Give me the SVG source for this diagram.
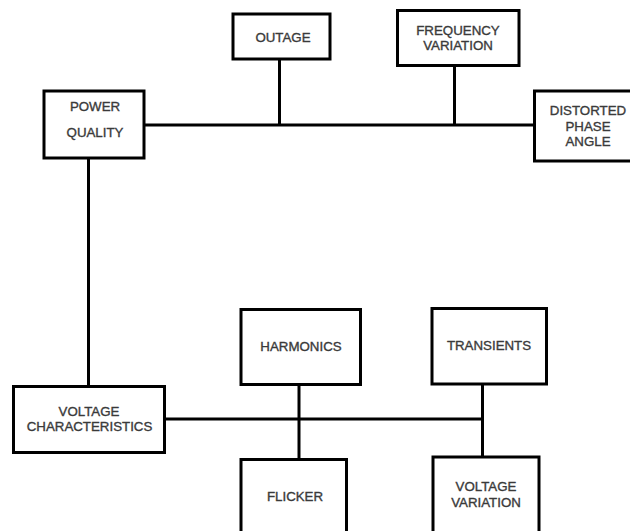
<svg xmlns="http://www.w3.org/2000/svg" width="630" height="531" viewBox="0 0 630 531">
<style>
.box{fill:#fff;stroke:#000;stroke-width:3}
.ln{stroke:#000;stroke-width:3;fill:none}
text{font-family:"Liberation Sans",Arial,sans-serif;font-size:13.3px;fill:#3a3a3a;stroke:#3a3a3a;stroke-width:0.35;text-anchor:middle}
</style>
<rect width="630" height="531" fill="#fff"/>
<g id="connectors">
<line class="ln" x1="144" y1="125" x2="535" y2="125"/>
<line class="ln" x1="279.5" y1="59" x2="279.5" y2="125"/>
<line class="ln" x1="454.5" y1="65" x2="454.5" y2="125"/>
<line class="ln" x1="88.5" y1="158" x2="88.5" y2="387"/>
<line class="ln" x1="164" y1="419" x2="483" y2="419"/>
<line class="ln" x1="299" y1="384" x2="299" y2="460"/>
<line class="ln" x1="482.5" y1="384" x2="482.5" y2="457"/>
</g>
<g id="outage"><rect class="box" x="233" y="14" width="97" height="45"/><text x="283" y="42">OUTAGE</text></g>
<g id="frequency-variation"><rect class="box" x="397.5" y="10.5" width="121.5" height="55"/><text x="458" y="35">FREQUENCY</text><text x="458" y="50">VARIATION</text></g>
<g id="power-quality"><rect class="box" x="44" y="91" width="100" height="67"/><text x="95" y="111">POWER</text><text x="95" y="137">QUALITY</text></g>
<g id="distorted-phase-angle"><rect class="box" x="534.5" y="91" width="110" height="70"/><text x="588" y="114.5">DISTORTED</text><text x="588" y="130.5">PHASE</text><text x="588" y="146">ANGLE</text></g>
<g id="voltage-characteristics"><rect class="box" x="13.5" y="386.5" width="151" height="66"/><text x="89" y="415.5">VOLTAGE</text><text x="89.5" y="431">CHARACTERISTICS</text></g>
<g id="harmonics"><rect class="box" x="241" y="309.5" width="119.5" height="75"/><text x="301" y="351">HARMONICS</text></g>
<g id="transients"><rect class="box" x="432" y="308.5" width="114.5" height="75.5"/><text x="489" y="350">TRANSIENTS</text></g>
<g id="flicker"><rect class="box" x="241" y="459.5" width="105.5" height="80"/><text x="295" y="501">FLICKER</text></g>
<g id="voltage-variation"><rect class="box" x="433" y="457" width="106" height="83"/><text x="486" y="491">VOLTAGE</text><text x="486" y="507">VARIATION</text></g>
</svg>
